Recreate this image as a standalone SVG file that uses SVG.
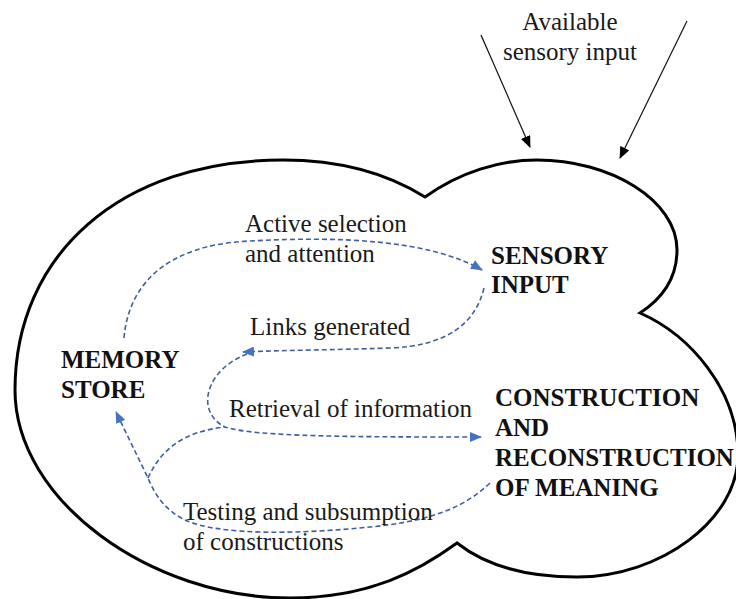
<svg xmlns="http://www.w3.org/2000/svg" width="736" height="599" viewBox="0 0 736 599">
<style>
text{font-family:"Liberation Serif","Times New Roman",Times,serif;font-size:25px}
.t{fill:#1a1a1a}
.b{font-weight:bold;fill:#111}
.c{fill:none;stroke:#3f5e9f;stroke-width:1.6;stroke-dasharray:5,3}
.k{fill:none;stroke:#111;stroke-width:1.2}
</style>
<defs>
<marker id="ba" viewBox="0 0 12 10" refX="11" refY="5" markerWidth="12" markerHeight="10" markerUnits="userSpaceOnUse" orient="auto"><path d="M0,0 L12,5 L0,10 Z" fill="#4472c4"/></marker>
<marker id="ka" viewBox="0 0 12 10" refX="11" refY="5" markerWidth="12" markerHeight="10" markerUnits="userSpaceOnUse" orient="auto"><path d="M0,0 L12,5 L0,10 Z" fill="#000"/></marker>
</defs>
<g id="cloud">
<path d="M425,197 C460,172 500,160 537,160 C610,160 677,200 677,250 C677,280 660,300 640,313 C690,335 738,390 738,455 C738,520 660,577 577,577 C525,577 485,565 457,543 C420,570 370,598 290,598 C150,598 15,500 15,390 C15,255 120,160 283,160 C335,160 385,172 425,197 Z" fill="none" stroke="#000" stroke-width="3"/>
</g>
<g id="available-input">
<text class="t" x="570" y="30" text-anchor="middle">Available</text>
<text class="t" x="570" y="60" text-anchor="middle">sensory input</text>
</g>
<g id="memory-store">
<text class="b" x="61" y="368">MEMORY</text>
<text class="b" x="61" y="398">STORE</text>
</g>
<g id="sensory-input">
<text class="b" x="491" y="264">SENSORY</text>
<text class="b" x="491" y="293">INPUT</text>
</g>
<g id="construction">
<text class="b" x="495" y="406">CONSTRUCTION</text>
<text class="b" x="495" y="436">AND</text>
<text class="b" x="495" y="466">RECONSTRUCTION</text>
<text class="b" x="495" y="496">OF MEANING</text>
</g>
<g id="connectors">
<line class="k" x1="481" y1="35" x2="530" y2="147" marker-end="url(#ka)"/>
<line class="k" x1="687" y1="21" x2="620" y2="158" marker-end="url(#ka)"/>
<path class="c" d="M124,338 C128,290 160,245 250,241 C340,236 430,240 482,270" marker-end="url(#ba)"/>
<path class="c" d="M484,288 C475,325 445,346 390,348 C330,350 290,350 243,352" marker-end="url(#ba)"/>
<path class="c" d="M247,354 C205,370 195,412 225,427 C255,437 360,437 481,437" marker-end="url(#ba)"/>
<path class="c" d="M148,478 C160,452 180,432 225,427"/>
<path class="c" d="M490,483 C460,512 420,522 370,527 C300,534 220,536 185,520 C165,510 155,495 148,478 L116,412" marker-end="url(#ba)"/>
<text class="t" x="245" y="232">Active selection</text>
<text class="t" x="245" y="262">and attention</text>
<text class="t" x="250" y="335">Links generated</text>
<text class="t" x="229" y="417">Retrieval of information</text>
<text class="t" x="183" y="520">Testing and subsumption</text>
<text class="t" x="183" y="550">of constructions</text>
</g>
</svg>
